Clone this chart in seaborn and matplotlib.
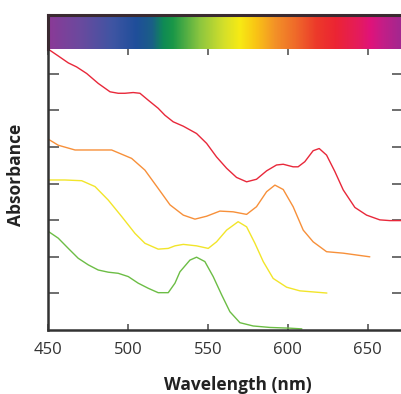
import numpy as np
import pandas as pd
import matplotlib
matplotlib.use("Agg")
import matplotlib.pyplot as plt
from matplotlib.colors import LinearSegmentedColormap
import seaborn as sns

# ------------------------------------------------------
# Data
# ------------------------------------------------------
red_nm = [450, 456.4, 462.7, 467.9, 474.2, 481.4, 488.8, 493.9, 498.1, 503.3,
          507.5, 512.7, 518.9, 523.1, 528.3, 534.6, 542.9, 549.2, 555.4, 561.7,
          567.9, 574.2, 580.4, 586.7, 592.9, 597.1, 603.3, 606.4, 610.6, 615.8,
          619.6, 624.2, 629.4, 634.6, 641.9, 649.2, 657.5, 663.8, 672]
red_abs = [7.68, 7.49, 7.30, 7.19, 7.01, 6.74, 6.51, 6.47, 6.47, 6.49,
           6.47, 6.28, 6.06, 5.87, 5.69, 5.57, 5.37, 5.10, 4.73, 4.42,
           4.17, 4.05, 4.12, 4.35, 4.51, 4.53, 4.46, 4.46, 4.60, 4.90,
           4.96, 4.78, 4.33, 3.83, 3.35, 3.14, 3.01, 2.99, 2.99]

orange_nm = [450, 456.4, 466.9, 479.4, 489.8, 502.3, 510.6, 518.9, 526.3, 534.6,
             541.9, 549.2, 557.5, 565.8, 574.2, 580.4, 586.7, 591.9, 597.1, 603.3,
             609.6, 615.8, 624.2, 634.6, 642.9, 651.25]
orange_abs = [5.22, 5.05, 4.92, 4.92, 4.92, 4.69, 4.37, 3.87, 3.42, 3.14,
              3.03, 3.11, 3.25, 3.23, 3.16, 3.37, 3.78, 3.96, 3.84, 3.37,
              2.73, 2.41, 2.14, 2.10, 2.05, 2.00]

yellow_nm = [450, 460.6, 471.1, 479.4, 487.7, 496.1, 504.4, 510.6, 518.9, 525.2,
             529.4, 534.6, 542.9, 550.2, 555.4, 561.7, 568.9, 574.2, 579.4, 584.6,
             590.8, 599.2, 607.5, 624.4]
yellow_abs = [4.10, 4.10, 4.08, 3.92, 3.55, 3.10, 2.64, 2.37, 2.21, 2.23,
              2.30, 2.34, 2.30, 2.23, 2.41, 2.73, 2.96, 2.82, 2.37, 1.87,
              1.41, 1.17, 1.07, 1.01]

green_nm = [450, 456.4, 462.7, 468.9, 475.2, 481.4, 487.7, 493.9, 500.2, 506.4,
            512.7, 518.9, 525.2, 529.4, 532.5, 538.75, 542.9, 548.1, 553.3, 558.6,
            563.75, 570, 578.3, 588.75, 601.25, 608.75]
green_abs = [2.70, 2.51, 2.23, 1.96, 1.78, 1.64, 1.58, 1.55, 1.46, 1.28,
             1.14, 1.02, 1.02, 1.28, 1.59, 1.91, 1.99, 1.87, 1.46, 0.96,
             0.50, 0.20, 0.11, 0.07, 0.05, 0.03]

x_ticks = [450, 500, 550, 600, 650]
y_ticks = [1, 2, 3, 4, 5, 6, 7]

# visible spectrum strip on top
spectrum_nm = [450, 470, 490, 505, 515, 522, 528, 545, 560, 570, 580, 592,
               605, 618, 630, 645, 652, 660, 672]
spectrum_colors = ["#8b3a97", "#6a4a9e", "#3f55a3", "#1f4e9a", "#1a5f86", "#0f8a55",
                   "#1a9748", "#8cc63f", "#d4df2a", "#f7ea14", "#f9c515", "#f39227",
                   "#ef6a2a", "#ec3a2a", "#ec2533", "#e41b5e", "#e0137a", "#c31e87",
                   "#a02890"]

XMIN, XMAX = 450, 672
YMAX = 7.68

# ------------------------------------------------------
# Build long table for seaborn
# ------------------------------------------------------
frames = []
for name, nm, ab in [("red", red_nm, red_abs), ("orange", orange_nm, orange_abs),
                     ("yellow", yellow_nm, yellow_abs), ("green", green_nm, green_abs)]:
    frames.append(pd.DataFrame({"wavelength": nm, "absorbance": ab, "dye": name}))
df = pd.concat(frames, ignore_index=True)

palette = {"red": "#e8283a", "orange": "#f7903a", "yellow": "#f2e52a", "green": "#6cbd45"}

# ------------------------------------------------------
# Plot
# ------------------------------------------------------
sns.set_style("white")
plt.rcParams["font.family"] = ["Open Sans", "DejaVu Sans"]

W, H = 401, 394
fig = plt.figure(figsize=(W / 100, H / 100), dpi=100)

left, right, top, bottom = 48, 403, 49, 330
ax = fig.add_axes([left / W, (H - bottom) / H, (right - left) / W, (bottom - top) / H])

sns.lineplot(data=df, x="wavelength", y="absorbance", hue="dye", palette=palette,
             sort=False, estimator=None, linewidth=1.0, legend=False, ax=ax)
for line in ax.lines:
    line.set_solid_joinstyle("round")

ax.set_xlim(XMIN, XMAX)
ax.set_ylim(0, YMAX)
ax.set_xticks(x_ticks)
ax.set_yticks(y_ticks)
ax.set_yticklabels([])
ax.tick_params(axis="x", which="both", direction="in", length=4, width=1.2,
               color="#555555", top=True, bottom=True, labelsize=12,
               labelcolor="#333333", pad=9)
ax.tick_params(axis="y", which="both", direction="in", length=8, width=1.2,
               color="#555555", left=True, right=True)

for side in ["left", "bottom"]:
    ax.spines[side].set_color("#333333")
    ax.spines[side].set_linewidth(1.8)
ax.spines["top"].set_visible(False)
ax.spines["right"].set_color("#333333")

ax.set_xlabel("Wavelength (nm)", fontsize=12.5, fontweight="bold", color="#222222")
ax.set_ylabel("Absorbance", fontsize=12.5, fontweight="bold", color="#222222")
ax.xaxis.set_label_coords((238 - left) / (right - left), -0.162)
ax.yaxis.set_label_coords((25 - left) / (right - left), (bottom - 175) / (bottom - top))

# spectrum strip
bar_top = 15
bax = fig.add_axes([left / W, (H - top) / H, (right - left) / W, (top - bar_top) / H])
cmap = LinearSegmentedColormap.from_list(
    "spectrum",
    [((n - XMIN) / (XMAX - XMIN), c) for n, c in zip(spectrum_nm, spectrum_colors)])
grad = np.linspace(0, 1, 512)[None, :]
bax.imshow(grad, cmap=cmap, aspect="auto", extent=[XMIN, XMAX, 0, 1])
bax.set_xlim(XMIN, XMAX)
bax.set_xticks([])
bax.set_yticks([])
bax.spines["bottom"].set_visible(False)
for side in ["top", "left"]:
    bax.spines[side].set_color("#3a2a30")
    bax.spines[side].set_linewidth(2.2)
bax.spines["right"].set_visible(False)

fig.savefig("out.png", dpi=100)
